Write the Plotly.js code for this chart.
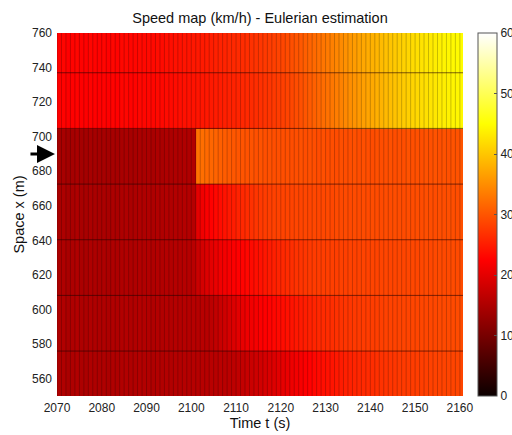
<!DOCTYPE html>
<html>
<head>
<meta charset="utf-8">
<script src="https://cdn.plot.ly/plotly-3.0.1.min.js"></script>
<style>
html,body{margin:0;padding:0;background:#fff;}
#chart{width:512px;height:435px;}
</style>
</head>
<body>
<div id="chart"></div>
<script>
// Time cells: 1 s wide, left edges 2070 ... 2160
const tFirst = 2070;
const tCellCount = 91;
// Space cell edges (m)
const spaceEdges = [543.8, 576, 608.2, 640.4, 672.6, 704.8, 737, 769.2];

// Speed (km/h), one array per space row, bottom row first
const speedRow1 = [
14.9,15.2,14.7,15.0,15.3,14.9,14.8,15.1,15.0,14.9,
15.1,14.8,15.2,15.0,15.3,15.4,15.1,15.2,15.5,15.4,
15.3,15.1,15.4,15.3,15.5,15.4,15.6,15.5,15.7,15.6,
15.8,15.7,15.9,15.8,16.0,15.9,16.1,16.0,
16.2,16.4,16.7,17.0,17.3,17.6,17.9,18.2,18.6,19.0,
19.4,19.8,20.2,20.6,21.0,21.4,21.8,22.2,22.6,23.0,
23.4,23.7,24.0,24.3,24.6,24.9,25.2,25.4,25.7,25.9,
26.1,26.3,26.5,26.7,26.9,27.0,27.2,27.3,27.5,27.6,
27.7,27.8,27.9,28.0,28.1,28.2,28.3,28.3,28.4,28.5,
28.5,28.6,28.6];
const speedRow2 = [
15.0,15.3,14.8,15.1,15.4,15.0,14.9,15.2,15.1,15.0,
15.2,14.9,15.3,15.1,15.4,15.5,15.2,15.3,15.6,15.5,
15.4,15.2,15.5,15.4,15.6,15.5,15.7,15.6,15.8,15.7,
15.9,15.8,16.0,15.9,
16.3,16.8,17.4,18.0,18.7,19.3,19.9,20.4,20.9,21.3,
21.7,22.1,22.4,22.7,23.0,23.3,23.6,23.9,24.2,24.5,
24.8,25.1,25.4,25.7,26.0,26.2,26.4,26.6,26.8,27.0,
27.2,27.3,27.5,27.6,27.7,27.8,27.9,28.0,28.1,28.2,
28.3,28.3,28.4,28.5,28.5,28.6,28.6,28.7,28.7,28.8,
28.8,28.9,28.9,29.0,29.0,29.1,29.1];
const speedRow3 = [
14.8,15.1,14.6,14.9,15.2,14.8,14.7,15.0,14.9,14.8,
15.0,14.7,15.1,14.9,15.2,15.3,15.0,15.1,15.4,15.3,
15.4,15.2,15.5,15.4,15.6,15.5,15.7,15.6,15.8,15.7,16.0,
17.5,18.5,19.3,20.0,20.6,21.1,21.5,21.9,22.2,22.5,
22.8,23.1,23.4,23.7,24.0,24.4,24.8,25.2,25.6,26.0,
26.3,26.6,26.9,27.1,27.3,27.5,27.7,27.8,27.9,28.0,
28.1,28.0,28.2,28.1,28.3,28.2,28.3,28.4,28.3,28.5,
28.4,28.5,28.6,28.5,28.6,28.7,28.6,28.7,28.8,28.7,
28.8,28.9,28.8,28.9,29.0,28.9,29.0,29.1,29.0,29.1];
const speedRow4 = [
14.6,14.9,14.4,14.7,15.0,14.6,14.5,14.8,14.7,14.6,
14.8,14.5,14.9,14.7,15.0,15.1,14.8,14.9,15.2,15.1,
15.2,15.0,15.3,15.2,15.4,15.3,15.5,15.4,15.6,15.5,15.7,
20.0,21.2,22.0,22.6,23.1,23.6,24.1,24.6,25.0,25.5,
26.0,26.4,26.8,27.2,27.5,27.8,28.0,28.2,28.3,28.4,
28.5,28.4,28.6,28.5,28.7,28.6,28.8,28.7,28.8,28.9,
28.8,29.0,28.9,29.0,28.9,29.1,29.0,29.1,29.0,29.2,
29.1,29.0,29.2,29.1,29.3,29.2,29.1,29.3,29.2,29.3,
29.2,29.4,29.3,29.2,29.4,29.3,29.5,29.4,29.3,29.5];
const speedRow5 = [
14.2,14.5,14.0,14.3,14.6,14.2,14.1,14.4,14.3,14.2,
14.4,14.1,14.5,14.3,14.6,14.7,14.4,14.5,14.8,14.7,
14.8,14.6,14.9,14.8,15.0,14.9,15.1,15.0,15.2,15.1,15.3,
32.5,32.2,31.8,31.5,31.2,30.9,30.6,30.4,30.2,30.0,
29.9,29.7,29.8,29.6,29.7,29.5,29.6,29.4,29.5,29.4,
29.5,29.3,29.4,29.6,29.3,29.5,29.4,29.2,29.5,29.3,
29.4,29.2,29.5,29.3,29.4,29.6,29.3,29.5,29.4,29.2,
29.5,29.3,29.4,29.6,29.3,29.5,29.4,29.7,29.5,29.6,
29.5,29.7,29.6,29.8,29.5,29.7,29.6,29.8,29.7,29.9];
const speedRow6 = [
22.4,22.7,22.3,22.6,22.8,22.5,22.4,22.7,22.6,22.5,
22.7,22.4,22.8,22.6,22.9,23.0,22.7,22.8,23.1,23.0,
23.1,23.0,23.3,23.2,23.5,23.4,23.6,23.7,23.9,24.0,
24.1,24.3,24.4,24.6,24.7,24.9,25.0,25.2,25.4,25.5,
25.7,25.9,26.1,26.3,26.5,26.7,27.0,27.2,27.5,27.8,
28.1,28.4,28.8,29.2,29.6,30.0,30.5,31.0,31.5,32.0,
32.5,33.0,33.5,34.0,34.5,35.0,35.5,36.0,36.5,37.0,
37.4,37.9,38.3,38.8,39.2,39.6,40.0,40.4,40.8,41.2,
41.6,42.0,42.3,42.6,42.9,43.2,43.5,43.8,44.0,44.2,44.4];
const speedRow7 = [
22.6,22.9,22.5,22.8,23.0,22.7,22.6,22.9,22.8,22.7,
22.9,22.6,23.0,22.8,23.1,23.2,22.9,23.0,23.3,23.2,
23.4,23.3,23.6,23.5,23.8,23.7,24.0,24.0,24.3,24.3,
24.5,24.6,24.8,25.0,25.1,25.3,25.5,25.6,25.9,26.0,
26.2,26.4,26.6,26.8,27.0,27.3,27.5,27.8,28.1,28.4,
28.7,29.1,29.5,29.9,30.3,30.8,31.3,31.8,32.3,32.8,
33.3,33.8,34.3,34.8,35.3,35.8,36.3,36.8,37.2,37.7,
38.1,38.5,39.0,39.4,39.8,40.2,40.6,41.0,41.4,41.8,
42.2,42.5,42.8,43.1,43.4,43.7,44.0,44.2,44.4,44.6,44.8];

const xTicks = [2070,2080,2090,2100,2110,2120,2130,2140,2150,2160];
const yTicks = [560,580,600,620,640,660,680,700,720,740,760];
const cbTicks = [0,10,20,30,40,50,60];

const timeEdges = [];
for (let i = 0; i <= tCellCount; i++) timeEdges.push(tFirst + i);

// MATLAB "hot" colormap
const hot = [[0,'rgb(11,0,0)'],[0.375,'rgb(255,0,0)'],[0.75,'rgb(255,255,0)'],[1,'rgb(255,255,255)']];

const z = [speedRow1, speedRow2, speedRow3, speedRow4, speedRow5, speedRow6, speedRow7];

const trace = {
  type: 'heatmap',
  x: timeEdges,
  y: spaceEdges,
  z: z,
  zmin: 0, zmax: 60,
  colorscale: hot,
  hoverinfo: 'skip',
  colorbar: {
    x: 1.0369, xanchor: 'left', xref: 'paper',
    y: 0.5, yanchor: 'middle', len: 1, lenmode: 'fraction',
    thickness: 19, thicknessmode: 'pixels',
    xpad: 0, ypad: 0,
    outlinewidth: 1, outlinecolor: '#555',
    tickvals: cbTicks, ticks: 'inside', ticklen: 3, tickcolor: '#555',
    tickfont: {family: 'Liberation Sans, Arial, sans-serif', size: 12, color: '#222'}
  }
};

const shapes = [];
timeEdges.forEach(t => shapes.push({type:'line', xref:'x', yref:'paper', x0:t, x1:t, y0:0, y1:1,
  line:{color:'rgba(0,0,0,0.22)', width:1}, layer:'above'}));
spaceEdges.forEach(s => shapes.push({type:'line', xref:'paper', yref:'y', x0:0, x1:1, y0:s, y1:s,
  line:{color:'rgba(40,0,0,0.6)', width:1}, layer:'above'}));

const font = {family: 'Liberation Sans, Arial, sans-serif', size: 12, color: '#222'};
const titleFont = {family: 'Liberation Sans, Arial, sans-serif', size: 14.5, color: '#111'};

const layout = {
  width: 512, height: 435,
  margin: {l:57, r:49, t:33, b:39, pad:0, autoexpand: false},
  paper_bgcolor: '#fff', plot_bgcolor: '#fff',
  font: font,
  showlegend: false,
  title: {text: 'Speed map (km/h) - Eulerian estimation', x: 0.5, xref: 'paper', xanchor: 'center',
          y: 1 - 18/435, yref: 'container', yanchor: 'middle', font: titleFont},
  xaxis: {range: [2070, 2160.7], tickvals: xTicks, ticks: '', showgrid: false, zeroline: false,
          showline: false, tickfont: font, ticklabelstandoff: 3,
          title: {text: 'Time t (s)', font: titleFont, standoff: 1}},
  yaxis: {range: [550, 760], tickvals: yTicks, ticks: '', showgrid: false, zeroline: false,
          showline: false, tickfont: font, ticklabelstandoff: 4,
          title: {text: 'Space x (m)', font: titleFont, standoff: 3}},
  shapes: shapes,
  annotations: [{
    xref: 'paper', yref: 'y', x: -0.005, y: 690, text: '', showarrow: true,
    ax: -26, ay: 0, arrowhead: 2, arrowsize: 1.2, arrowwidth: 3, arrowcolor: '#000', standoff: 0
  }]
};

Plotly.newPlot('chart', [trace], layout, {staticPlot: true, displayModeBar: false});
</script>
</body>
</html>
